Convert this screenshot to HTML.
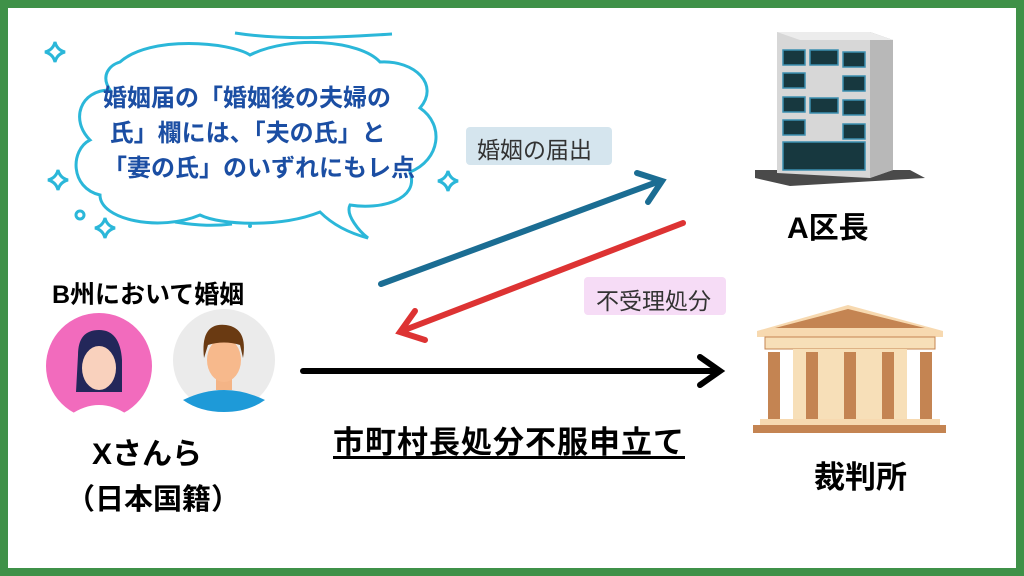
<!DOCTYPE html>
<html><head><meta charset="utf-8"><style>
body{margin:0;width:1024px;height:576px;overflow:hidden;font-family:"Liberation Sans","Noto Sans CJK JP",sans-serif;}
.frame{position:absolute;left:0;top:0;width:1008px;height:560px;border:8px solid #3f9148;background:#fff;}
.t{position:absolute;font-weight:bold;white-space:nowrap;}
</style></head><body>
<div class="frame"></div>
<svg width="1024" height="576" style="position:absolute;left:0;top:0">
<path d="M120,62 C150,35 230,42 250,55 C290,35 360,40 380,62 C415,60 440,85 420,108 C445,125 440,160 410,172 C420,200 380,210 350,205 C345,215 360,232 368,238 C345,232 330,222 320,212 C280,228 220,225 200,215 C160,232 100,220 100,195 C70,188 70,150 90,140 C70,120 80,90 110,90 C100,75 110,65 120,62Z" fill="#fff" stroke="#2bb7d9" stroke-width="3"/>
<path d="M235,33 C280,40 330,38 392,34" fill="none" stroke="#2bb7d9" stroke-width="3"/>
<path d="M175,222 C200,226 215,226 232,224" fill="none" stroke="#2bb7d9" stroke-width="3"/>
<g fill="none" stroke="#2bb7d9" stroke-width="3">
<path d="M55,42 Q57,50 65,52 Q57,54 55,62 Q53,54 45,52 Q53,50 55,42Z"/>
<path d="M58,170 Q60,178 68,180 Q60,182 58,190 Q56,182 48,180 Q56,178 58,170Z"/>
<path d="M105,218 Q107,226 115,228 Q107,230 105,238 Q103,230 95,228 Q103,226 105,218Z"/>
<path d="M448,171 Q450,179 458,181 Q450,183 448,191 Q446,183 438,181 Q446,179 448,171Z"/>
<circle cx="80" cy="215" r="4"/>
</g>
<circle cx="250" cy="226" r="2" fill="#2bb7d9"/>
<g stroke-width="6" fill="none" stroke-linecap="round">
<line x1="381" y1="284" x2="660" y2="181" stroke="#1b6d93"/>
<polyline points="637,173 662,181 648,202" stroke="#1b6d93"/>
<line x1="683" y1="223" x2="402" y2="331" stroke="#dd3333"/>
<polyline points="415,311 400,332 425,340" stroke="#dd3333"/>
<line x1="303" y1="371" x2="718" y2="371" stroke="#000"/>
<polyline points="700,357 720,371 700,385" stroke="#000"/>
</g>
<g>
<polygon points="755,170 910,170 925,178 790,186 755,178" fill="#4a4a4a"/>
<polygon points="777,32 870,32 893,40 893,170 870,178 777,173" fill="#d7d7d7"/>
<polygon points="870,32 893,40 893,170 870,178" fill="#b8b8b8"/>
<polygon points="777,32 870,32 893,40 800,40" fill="#ececec"/>
<g fill="#17383f" stroke="#3c8fb0" stroke-width="1.5">
<rect x="783" y="50" width="22" height="15"/><rect x="810" y="50" width="28" height="15"/><rect x="843" y="52" width="22" height="15"/>
<rect x="783" y="73" width="22" height="15"/><rect x="843" y="76" width="22" height="15"/>
<rect x="783" y="97" width="22" height="15"/><rect x="810" y="98" width="28" height="15"/><rect x="843" y="100" width="22" height="15"/>
<rect x="783" y="120" width="22" height="15"/><rect x="843" y="124" width="22" height="15"/>
<rect x="783" y="142" width="82" height="28"/>
</g>
</g>
<g>
<polygon points="757,331 848,305 943,331" fill="#f7d9b0"/>
<polygon points="775,328 848,309 925,328" fill="#c48452"/>
<rect x="757" y="331" width="186" height="6" fill="#f7d9b0"/>
<rect x="765" y="337" width="170" height="12" fill="#f7dfb8" stroke="#c48452" stroke-width="1"/>
<rect x="793" y="349" width="114" height="70" fill="#f7dfb8"/>
<g fill="#c48452">
<rect x="768" y="352" width="12" height="67"/><rect x="806" y="352" width="12" height="67"/><rect x="844" y="352" width="12" height="67"/><rect x="882" y="352" width="12" height="67"/><rect x="920" y="352" width="12" height="67"/>
</g>
<rect x="760" y="419" width="180" height="6" fill="#f7d9b0"/>
<rect x="753" y="425" width="193" height="8" fill="#c48452"/>
</g>
<circle cx="99" cy="366" r="53" fill="#f26bbd"/>
<path d="M70,415 Q99,395 128,415 Q115,420 99,420 Q83,420 70,415Z" fill="#fff"/>
<path d="M78,355 Q78,330 99,330 Q120,330 122,360 L122,392 L76,392Z" fill="#23275a"/>
<ellipse cx="99" cy="368" rx="17" ry="22" fill="#f9d1bd"/>
<circle cx="224" cy="360" r="51" fill="#ebebeb"/>
<path d="M183,400 Q224,380 265,400 Q248,412 224,412 Q200,412 183,400Z" fill="#1e9ad8"/>
<rect x="216" y="370" width="16" height="20" fill="#f4b486"/>
<ellipse cx="224" cy="360" rx="17" ry="22" fill="#f7b98c"/>
<path d="M204,358 Q200,322 226,325 Q248,328 243,358 L240,345 Q224,340 208,345Z" fill="#6a3a12"/>
</svg>
<div class="t" style="left:103px;top:81px;font-size:24px;line-height:35px;color:#1b4ea3;">婚姻届の「婚姻後の夫婦の<br>&nbsp;氏」欄には、「夫の氏」と<br>「妻の氏」のいずれにもレ点</div>
<div style="position:absolute;left:466px;top:127px;width:146px;height:38px;background:#d5e5ee;border-radius:4px;"></div>
<div class="t" style="left:477px;top:131px;font-size:23px;font-weight:normal;color:#333;">婚姻の届出</div>
<div style="position:absolute;left:584px;top:277px;width:142px;height:38px;background:#f6dcf6;border-radius:4px;"></div>
<div class="t" style="left:596px;top:282px;font-size:23px;font-weight:normal;color:#333;">不受理処分</div>
<div class="t" style="left:787px;top:203px;font-size:30px;">A区長</div>
<div class="t" style="left:814px;top:452px;font-size:31px;">裁判所</div>
<div class="t" style="left:52px;top:275px;font-size:25px;">B州において婚姻</div>
<div class="t" style="left:92px;top:429px;font-size:30px;">Xさんら</div>
<div class="t" style="left:66px;top:476px;font-size:29px;">（日本国籍）</div>
<div class="t" style="left:333px;top:417px;font-size:31px;letter-spacing:1px;text-decoration:underline;text-underline-offset:3px;">市町村長処分不服申立て</div>
</body></html>
